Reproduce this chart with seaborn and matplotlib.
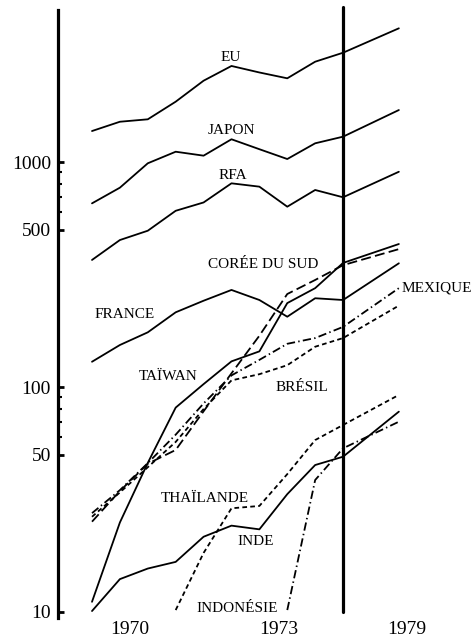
import numpy as np
import pandas as pd
import matplotlib
matplotlib.use("Agg")
import matplotlib.pyplot as plt
import seaborn as sns
from matplotlib.ticker import FixedLocator, NullFormatter

nan = np.nan
periods = [0, 1, 2, 3, 4, 5, 6, 7, 8, 9, 11]

eu = [1373, 1510, 1548, 1854, 2298, 2672, 2500, 2355, 2791, 3060, 3928]
japon = [655, 769, 987, 1111, 1067, 1262, 1140, 1031, 1211, 1296, 1702]
rfa = [367, 450, 495, 607, 661, 804, 777, 633, 751, 697, 905]
france = [129.5, 153.7, 175, 214.8, 241.8, 270, 243.6, 205.3, 248, 243.6, 354.6]
coree = [25.2, 34.5, 45.6, 52.5, 78, 115, 169, 259, 299, 348, 410]
taiwan = [11.1, 25, 46, 81, 103, 130, 144, 236, 275, 356, 432]
mexique = [27.5, 34.8, 45.9, 61.4, 84.5, 112.6, 132, 155.6, 165, 185, 275]
bresil = [26.5, 34, 44, 57, 79.8, 107, 114, 125, 151, 165, 230]
thailande = [nan, nan, nan, 10.2, 18.3, 28.9, 29.6, 41, 58.1, 67.8, 92.2]
inde = [10.1, 14.0, 15.6, 16.7, 21.6, 24.2, 23.3, 33.4, 45, 49, 77.7]
indonesie = [nan, nan, nan, nan, nan, nan, nan, 10.2, 38.6, 53.4, 70.1]

series = {
    "EU": eu, "JAPON": japon, "RFA": rfa, "FRANCE": france,
    "CORÉE DU SUD": coree, "TAÏWAN": taiwan, "MEXIQUE": mexique,
    "BRÉSIL": bresil, "THAÏLANDE": thailande, "INDE": inde,
    "INDONÉSIE": indonesie,
}

x_tick_pos = [1.36, 6.70, 11.29]
x_tick_labels = ["1970", "1973", "1979"]
y_ticks = [10, 50, 100, 500, 1000]
y_tick_labels = ["10", "50", "100", "500", "1000"]
y_minor = [60, 70, 80, 90, 600, 700, 800, 900]

# label positions (period, value) at text baseline
label_pos = {
    "EU": (4.98, 2812), "JAPON": (5.0, 1332), "RFA": (5.06, 844),
    "CORÉE DU SUD": (6.13, 338.8), "FRANCE": (1.165, 202),
    "TAÏWAN": (2.735, 107.4), "BRÉSIL": (7.52, 96.3),
    "MEXIQUE": (12.36, 265.2), "THAÏLANDE": (4.05, 30.9),
    "INDE": (5.87, 19.86), "INDONÉSIE": (5.19, 10.0),
}

rows = []
for name, vals in series.items():
    for p, v in zip(periods, vals):
        if not np.isnan(v):
            rows.append({"period": p, "value": v, "pays": name})
df = pd.DataFrame(rows)

long_dash = (5.5, 2.4)
short_dash = (2.6, 1.8)
dash_dot = (4.6, 1.8, 0.8, 1.8)
dashes = {
    "EU": "", "JAPON": "", "RFA": "", "FRANCE": "", "TAÏWAN": "", "INDE": "",
    "CORÉE DU SUD": long_dash, "MEXIQUE": dash_dot, "BRÉSIL": short_dash,
    "THAÏLANDE": short_dash, "INDONÉSIE": dash_dot,
}
palette = {k: "black" for k in series}

sns.set_theme(style="white")
plt.rcParams["font.family"] = ["Liberation Serif", "DejaVu Serif"]

fig = plt.figure(figsize=(4.75, 6.38), dpi=100)
ax = fig.add_axes([58 / 475, 20 / 638, 417 / 475, 608 / 638])

sns.lineplot(data=df, x="period", y="value", hue="pays", style="pays",
             palette=palette, dashes=dashes, linewidth=1.3, legend=False,
             ax=ax, estimator=None, sort=True)

ax.set_yscale("log")
ymin, ymax = 9.404, 4738
ax.set_ylim(ymin, ymax)
ax.set_xlim(-1.219, 13.73)

ax.yaxis.set_major_locator(FixedLocator(y_ticks))
ax.set_yticklabels(y_tick_labels)
ax.yaxis.set_minor_locator(FixedLocator(y_minor))
ax.yaxis.set_minor_formatter(NullFormatter())
ax.tick_params(axis="y", which="major", direction="in", length=4, width=2,
               labelsize=14, pad=5, left=True, color="black", labelcolor="black")
ax.tick_params(axis="y", which="minor", direction="in", length=3, width=1.5,
               left=True, color="black")

ax.set_xticks(x_tick_pos)
ax.set_xticklabels(x_tick_labels)
ax.tick_params(axis="x", length=0, labelsize=14, pad=2, labelcolor="black")

ax.set_xlabel("")
ax.set_ylabel("")
for s in ["top", "right", "bottom"]:
    ax.spines[s].set_visible(False)
ax.spines["left"].set_linewidth(2.3)
ax.spines["left"].set_color("black")
ax.grid(False)

# thick vertical line at the last observed year
frac10 = (np.log10(10) - np.log10(ymin)) / (np.log10(ymax) - np.log10(ymin))
ax.axvline(9, ymin=frac10, ymax=1.005, color="black", lw=2.3, clip_on=False)

for name, (px, py) in label_pos.items():
    ax.text(px, py, name, ha="center", va="baseline", fontsize=11, color="black")

fig.savefig("out.png", dpi=100)
